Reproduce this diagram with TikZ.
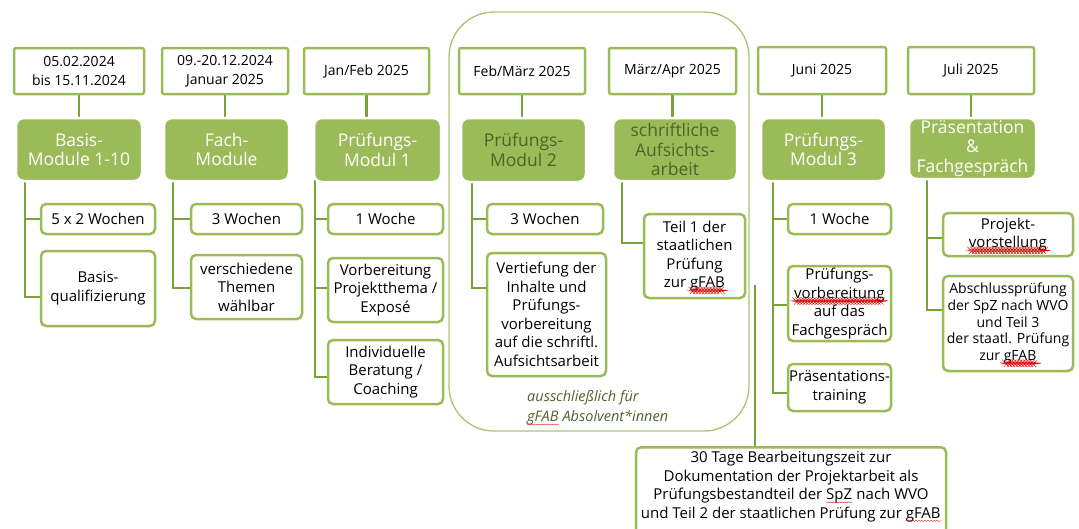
\documentclass[tikz,border=0pt]{standalone}
\usepackage{fontspec}
\setmainfont{Open Sans}
\usetikzlibrary{shadows,backgrounds,decorations.pathmorphing}
\definecolor{bgreen}{HTML}{9BBB59}
\definecolor{lgreen}{HTML}{77A33A}
\definecolor{dgreen}{HTML}{4F6228}
\newsavebox\wavybox
\newcommand\wavy[1]{\sbox\wavybox{#1}\rlap{\usebox\wavybox}\tikz[baseline=0pt]\draw[red!85!black, line width=0.35pt, decorate, decoration={snake,amplitude=0.5pt,segment length=3pt}] (0pt,-2.8pt) -- (\wd\wavybox,-2.8pt);}
\tikzset{
  datebox/.style={draw=bgreen, line width=2.5pt, rounded corners=2pt, fill=white, align=center, inner sep=0pt, font=\fontsize{14}{19}\selectfont},
  modbox/.style={fill=bgreen, draw=white, line width=2.5pt, rounded corners=8pt, text=white, align=center, inner sep=0pt, font=\fontsize{17.5}{19.5}\selectfont, drop shadow={shadow xshift=0.3pt, shadow yshift=-1.2pt, opacity=0.3}},
  itembox/.style={draw=bgreen, line width=2.5pt, rounded corners=5pt, fill=white, align=center, inner sep=0pt, font=\fontsize{15}{18.5}\selectfont},
  conn/.style={draw=lgreen, line width=2.8pt},
  frame/.style={draw=bgreen!85, line width=1.3pt, rounded corners=45pt}
}
\begin{document}
\begin{tikzpicture}[x=1pt,y=-1pt]
\useasboundingbox (0,0) rectangle (1079,528);
% date boxes
\node[datebox, minimum width=130pt, minimum height=46pt] (d1) at (79,71) {05.02.2024\\bis 15.11.2024};
\node[datebox, minimum width=126pt, minimum height=46pt] (d2) at (225,71) {09.-20.12.2024\\Januar 2025};
\node[datebox, minimum width=125pt, minimum height=46pt] (d3) at (366.5,71) {Jan/Feb 2025};
\node[datebox, minimum width=126pt, minimum height=46pt] (d4) at (522,71) {Feb/März 2025};
\node[datebox, minimum width=127pt, minimum height=46pt] (d5) at (672.5,71) {März/Apr 2025};
\node[datebox, minimum width=128pt, minimum height=47pt] (d6) at (822,70.5) {Juni 2025};
\node[datebox, minimum width=126pt, minimum height=47pt] (d7) at (971,70.5) {Juli 2025};
% module boxes
\node[modbox, minimum width=126pt, minimum height=63pt] (m1) at (79,149.5) {Basis-\\Module 1-10};
\node[modbox, minimum width=125pt, minimum height=63pt] (m2) at (226.5,149.5) {Fach-\\Module};
\node[modbox, minimum width=127pt, minimum height=64pt] (m3) at (377.5,150) {Prüfungs-\\Modul 1};
\node[modbox, minimum width=125pt, minimum height=64pt, text=dgreen] (m4) at (523.5,150) {Prüfungs-\\Modul 2};
\node[modbox, minimum width=124pt, minimum height=63pt, text=dgreen] (m5) at (675,149.5) {schriftliche\\Aufsichts-\\arbeit};
\node[modbox, minimum width=125pt, minimum height=63pt] (m6) at (823.5,149.5) {Prüfungs-\\Modul 3};
\node[modbox, minimum width=127pt, minimum height=61pt] (m7) at (972.5,148.5) {Präsentation\\\&\\Fachgespräch};
% items
\node[itembox, minimum width=114pt, minimum height=30pt] (i11) at (98,219) {5 x 2 Wochen};
\node[itembox, minimum width=114pt, minimum height=75pt] (i12) at (98,288.5) {Basis-\\qualifizierung};
\node[itembox, minimum width=111pt, minimum height=30pt] (i21) at (246.5,219) {3 Wochen};
\node[itembox, minimum width=111pt, minimum height=64pt] (i22) at (246.5,287) {verschiedene\\Themen\\wählbar};
\node[itembox, minimum width=115pt, minimum height=30pt] (i31) at (385.5,219) {1 Woche};
\node[itembox, minimum width=115pt, minimum height=64pt] (i32) at (385.5,290) {Vorbereitung\\Projektthema /\\Exposé};
\node[itembox, minimum width=115pt, minimum height=64pt] (i33) at (385.5,372) {Individuelle\\Beratung /\\Coaching};
\node[itembox, minimum width=116pt, minimum height=30pt] (i41) at (545,219) {3 Wochen};
\node[itembox, minimum width=119pt, minimum height=123pt] (i42) at (546.5,314.5) {Vertiefung der\\Inhalte und\\Prüfungs-\\vorbereitung\\auf die schriftl.\\Aufsichtsarbeit};
\node[itembox, minimum width=101pt, minimum height=84pt] (i51) at (694.5,256) {Teil 1 der\\staatlichen\\Prüfung\\zur \wavy{gFAB}};
\node[itembox, minimum width=103pt, minimum height=30pt] (i61) at (839.5,219) {1 Woche};
\node[itembox, minimum width=103pt, minimum height=75pt] (i62) at (839.5,303.5) {Prüfungs-\\\wavy{vorbereitung}\\auf das\\Fachgespräch};
\node[itembox, minimum width=103pt, minimum height=47pt] (i63) at (839.5,387.5) {Präsentations-\\training};
\node[itembox, minimum width=130pt, minimum height=43pt] (i71) at (1008,234.5) {Projekt-\\\wavy{vorstellung}};
\node[itembox, minimum width=130pt, minimum height=95pt, font=\fontsize{14}{16.7}\selectfont] (i72) at (1008,323.5) {Abschlussprüfung\\der SpZ nach WVO\\und Teil 3\\der staatl. Prüfung\\zur \wavy{gFAB}};
\node[itembox, minimum width=310pt, minimum height=90pt, anchor=north] (b) at (791,446) {};
\node[align=center, inner sep=0pt, font=\fontsize{15}{18.5}\selectfont, anchor=north] (bt) at (791,451) {30 Tage Bearbeitungszeit zur\\Dokumentation der Projektarbeit als\\Prüfungsbestandteil der \wavy{SpZ} nach WVO\\und Teil 2 der staatlichen Prüfung zur \wavy{gFAB}};
% note
\node[anchor=west, align=left, inner sep=0pt, text=dgreen, font=\itshape\fontsize{14.5}{20}\selectfont] (note) at (527,408) {ausschließlich für\\\wavy{gFAB} Absolvent*innen};
% coordinates
\coordinate (t1) at (25,180);
\coordinate (t2) at (173,180);
\coordinate (t3) at (315,180);
\coordinate (t4) at (472,180);
\coordinate (t5) at (622,180);
\coordinate (t6) at (773,180);
\coordinate (t7) at (927,178);
\coordinate (bl) at (755,285);
\begin{scope}[on background layer]
\draw[frame] (449,12) rectangle (749,431);
\foreach \n in {1,2,3,4,5,6,7} {\draw[conn] (d\n.south) -- (d\n.south |- m\n.north);}
\draw[conn] (t1) |- (i11.west);
\draw[conn] (t1) |- ([yshift=-8.5pt]i12.west);
\draw[conn] (t2) |- (i21.west);
\draw[conn] (t2) |- ([yshift=-1pt]i22.west);
\draw[conn] (t3) |- (i31.west);
\draw[conn] (t3) |- ([yshift=2pt]i32.west);
\draw[conn] (t3) |- ([yshift=-5pt]i33.west);
\draw[conn] (t4) |- (i41.west);
\draw[conn] (t4) |- ([yshift=26.5pt]i42.west);
\draw[conn] (t5) |- ([yshift=13pt]i51.west);
\draw[conn] (t6) |- (i61.west);
\draw[conn] (t6) |- ([yshift=-1.5pt]i62.west);
\draw[conn] (t6) |- ([yshift=-5.5pt]i63.west);
\draw[conn] (t7) |- ([yshift=-3.5pt]i71.west);
\draw[conn] (t7) |- ([yshift=13.5pt]i72.west);
\draw[conn] (bl) -- (bl |- b.north);
\end{scope}
\end{tikzpicture}
\end{document}
